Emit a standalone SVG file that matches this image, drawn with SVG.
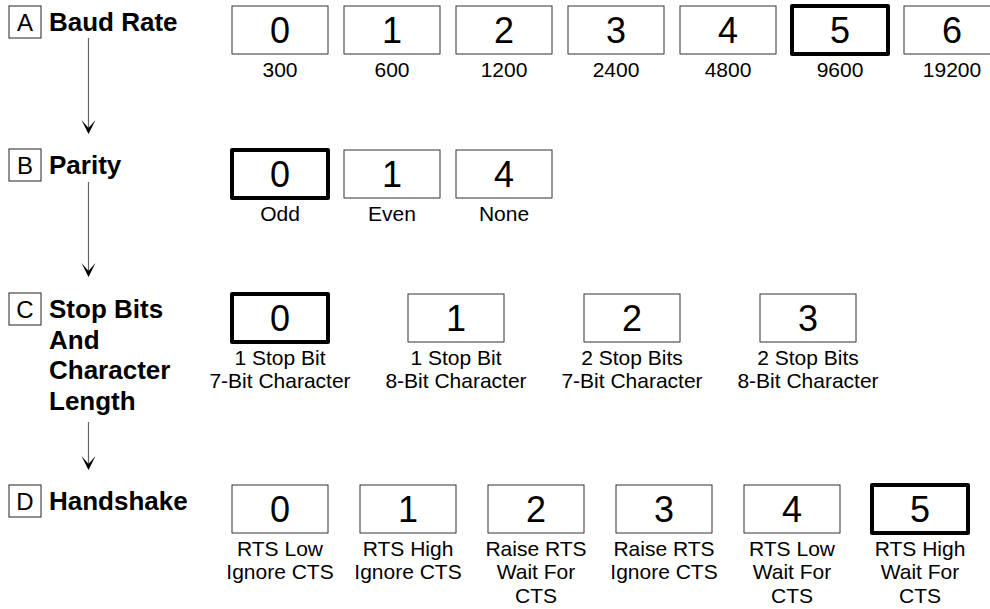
<svg xmlns="http://www.w3.org/2000/svg" width="990" height="609" viewBox="0 0 990 609">
<defs>
<style>
text{font-family:"Liberation Sans",Arial,sans-serif;fill:#000}
.opt{fill:#fff;stroke:#333;stroke-width:1}
.sel{fill:#fff;stroke:#000;stroke-width:4;stroke-linejoin:round}
.num{font-size:36px;text-anchor:middle}
.lbl{font-size:21px;text-anchor:middle}
.key{fill:#fff;stroke:#222;stroke-width:1}
.letter{font-size:24px;text-anchor:middle}
.title{font-size:26px;font-weight:bold}
.conn{stroke:#666;stroke-width:1.2;fill:none}
.head{fill:#000}
</style>
</defs>
<rect width="990" height="609" fill="#fff"/>

<g id="connectors">
<line class="conn" x1="88.5" y1="38" x2="88.5" y2="132"/>
<path class="head" d="M88.5,134 L81.5,120 L88.5,128 L95.5,120 Z"/>
<line class="conn" x1="88.5" y1="182" x2="88.5" y2="275"/>
<path class="head" d="M88.5,277 L81.5,263 L88.5,271 L95.5,263 Z"/>
<line class="conn" x1="88.5" y1="422" x2="88.5" y2="468"/>
<path class="head" d="M88.5,470 L81.5,456 L88.5,464 L95.5,456 Z"/>
</g>

<g id="rowA">
<rect class="key" x="9" y="6" width="32" height="32"/>
<text class="letter" x="25" y="31">A</text>
<text class="title" x="49" y="31">Baud Rate</text>
</g>
<g id="A0"><rect class="opt" x="232" y="6" width="96" height="48"/><text class="num" x="280" y="43">0</text><text class="lbl" x="280" y="77">300</text></g>
<g id="A1"><rect class="opt" x="344" y="6" width="96" height="48"/><text class="num" x="392" y="43">1</text><text class="lbl" x="392" y="77">600</text></g>
<g id="A2"><rect class="opt" x="456" y="6" width="96" height="48"/><text class="num" x="504" y="43">2</text><text class="lbl" x="504" y="77">1200</text></g>
<g id="A3"><rect class="opt" x="568" y="6" width="96" height="48"/><text class="num" x="616" y="43">3</text><text class="lbl" x="616" y="77">2400</text></g>
<g id="A4"><rect class="opt" x="680" y="6" width="96" height="48"/><text class="num" x="728" y="43">4</text><text class="lbl" x="728" y="77">4800</text></g>
<g id="A5"><rect class="sel" x="792" y="6" width="96" height="48"/><text class="num" x="840" y="43">5</text><text class="lbl" x="840" y="77">9600</text></g>
<g id="A6"><rect class="opt" x="904" y="6" width="96" height="48"/><text class="num" x="952" y="43">6</text><text class="lbl" x="952" y="77">19200</text></g>

<g id="rowB">
<rect class="key" x="9" y="149" width="32" height="32"/>
<text class="letter" x="25" y="174">B</text>
<text class="title" x="49" y="174">Parity</text>
</g>
<g id="B0"><rect class="sel" x="232" y="150" width="96" height="48"/><text class="num" x="280" y="187">0</text><text class="lbl" x="280" y="221">Odd</text></g>
<g id="B1"><rect class="opt" x="344" y="150" width="96" height="48"/><text class="num" x="392" y="187">1</text><text class="lbl" x="392" y="221">Even</text></g>
<g id="B4"><rect class="opt" x="456" y="150" width="96" height="48"/><text class="num" x="504" y="187">4</text><text class="lbl" x="504" y="221">None</text></g>

<g id="rowC">
<rect class="key" x="9" y="293" width="32" height="32"/>
<text class="letter" x="25" y="318">C</text>
<text class="title" x="49" y="318">Stop Bits</text>
<text class="title" x="49" y="348.5">And</text>
<text class="title" x="49" y="379">Character</text>
<text class="title" x="49" y="409.5">Length</text>
</g>
<g id="C0"><rect class="sel" x="232" y="294" width="96" height="48"/><text class="num" x="280" y="331">0</text><text class="lbl" x="280" y="365">1 Stop Bit</text><text class="lbl" x="280" y="388">7-Bit Character</text></g>
<g id="C1"><rect class="opt" x="408" y="294" width="96" height="48"/><text class="num" x="456" y="331">1</text><text class="lbl" x="456" y="365">1 Stop Bit</text><text class="lbl" x="456" y="388">8-Bit Character</text></g>
<g id="C2"><rect class="opt" x="584" y="294" width="96" height="48"/><text class="num" x="632" y="331">2</text><text class="lbl" x="632" y="365">2 Stop Bits</text><text class="lbl" x="632" y="388">7-Bit Character</text></g>
<g id="C3"><rect class="opt" x="760" y="294" width="96" height="48"/><text class="num" x="808" y="331">3</text><text class="lbl" x="808" y="365">2 Stop Bits</text><text class="lbl" x="808" y="388">8-Bit Character</text></g>

<g id="rowD">
<rect class="key" x="9" y="485" width="32" height="32"/>
<text class="letter" x="25" y="510">D</text>
<text class="title" x="49" y="510">Handshake</text>
</g>
<g id="D0"><rect class="opt" x="232" y="485" width="96" height="48"/><text class="num" x="280" y="522">0</text><text class="lbl" x="280" y="556">RTS Low</text><text class="lbl" x="280" y="579">Ignore CTS</text></g>
<g id="D1"><rect class="opt" x="360" y="485" width="96" height="48"/><text class="num" x="408" y="522">1</text><text class="lbl" x="408" y="556">RTS High</text><text class="lbl" x="408" y="579">Ignore CTS</text></g>
<g id="D2"><rect class="opt" x="488" y="485" width="96" height="48"/><text class="num" x="536" y="522">2</text><text class="lbl" x="536" y="556">Raise RTS</text><text class="lbl" x="536" y="579">Wait For</text><text class="lbl" x="536" y="603">CTS</text></g>
<g id="D3"><rect class="opt" x="616" y="485" width="96" height="48"/><text class="num" x="664" y="522">3</text><text class="lbl" x="664" y="556">Raise RTS</text><text class="lbl" x="664" y="579">Ignore CTS</text></g>
<g id="D4"><rect class="opt" x="744" y="485" width="96" height="48"/><text class="num" x="792" y="522">4</text><text class="lbl" x="792" y="556">RTS Low</text><text class="lbl" x="792" y="579">Wait For</text><text class="lbl" x="792" y="603">CTS</text></g>
<g id="D5"><rect class="sel" x="872" y="485" width="96" height="48"/><text class="num" x="920" y="522">5</text><text class="lbl" x="920" y="556">RTS High</text><text class="lbl" x="920" y="579">Wait For</text><text class="lbl" x="920" y="603">CTS</text></g>
</svg>
